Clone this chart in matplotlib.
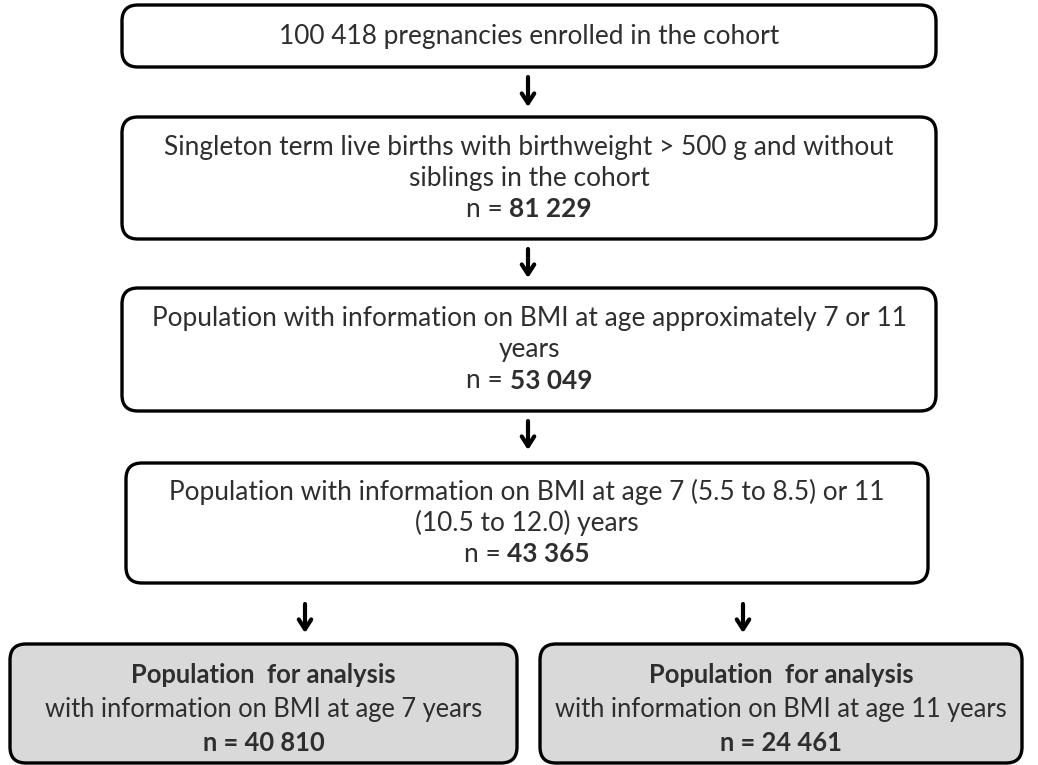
"""Flowchart of cohort selection: pregnancies -> analysis populations at 7 and 11 years."""
import matplotlib
matplotlib.use("Agg")
import matplotlib.pyplot as plt
from matplotlib.patches import FancyBboxPatch

# ---- content -------------------------------------------------------------
step_text = [
    ["100 418 pregnancies enrolled in the cohort"],
    ["Singleton term live births with birthweight > 500 g and without",
     "siblings in the cohort"],
    ["Population with information on BMI at age approximately 7 or 11",
     "years"],
    ["Population with information on BMI at age 7 (5.5 to 8.5) or 11",
     "(10.5 to 12.0) years"],
]
step_n = [None, "81 229", "53 049", "43 365"]

final_title = ["Population  for analysis", "Population  for analysis"]
final_text = ["with information on BMI at age 7 years",
              "with information on BMI at age 11 years"]
final_n = ["40 810", "24 461"]

# ---- layout (pixel coordinates, y down) ----------------------------------
W, H = 1038, 765
step_boxes = [(122, 5, 936, 67), (122, 117, 936, 239),
              (122, 288, 936, 411), (126, 463, 928, 583)]
final_boxes = [(10, 644, 517, 763), (540, 644, 1022, 763)]
arrows = [(528, 77, 107), (528, 249, 278), (528, 421, 450),
          (305, 604, 633), (743, 604, 633)]

FONT = "Lato"
FS_TOP = 18.9
FS_BOT = 18.4
TXT = "#2e2e2e"

fig = plt.figure(figsize=(W / 100, H / 100), dpi=100)
ax = fig.add_axes([0, 0, 1, 1])
ax.set_xlim(0, W)
ax.set_ylim(H, 0)
ax.axis("off")
renderer = fig.canvas.get_renderer()


def box(x0, y0, x1, y1, fc="white"):
    r = 16
    p = FancyBboxPatch((x0 + r, y0 + r), (x1 - x0) - 2 * r, (y1 - y0) - 2 * r,
                       boxstyle=f"round,pad={r},rounding_size={r}",
                       fc=fc, ec="black", lw=2.4, zorder=1)
    ax.add_patch(p)


def mixed(xc, y, parts, fs):
    """Draw text pieces [(str, weight)] side by side, centred on xc."""
    objs = [ax.text(0, y, s, fontsize=fs, family=FONT, weight=w, color=TXT,
                    ha="left", va="center") for s, w in parts]
    inv = ax.transData.inverted()
    widths = []
    for t in objs:
        bb = t.get_window_extent(renderer)
        (a, _), (b, _) = inv.transform([(bb.x0, 0), (bb.x1, 0)])
        widths.append(b - a)
    x = xc - sum(widths) / 2
    for t, w in zip(objs, widths):
        t.set_x(x)
        x += w


LINE = 31
for (x0, y0, x1, y1), lines, n in zip(step_boxes, step_text, step_n):
    box(x0, y0, x1, y1)
    rows = [[(s, "normal")] for s in lines]
    if n:
        rows.append([("n = ", "normal"), (n, "bold")])
    yc = (y0 + y1) / 2
    start = yc - LINE * (len(rows) - 1) / 2
    for i, parts in enumerate(rows):
        mixed((x0 + x1) / 2, start + i * LINE, parts, FS_TOP)

for (x0, y0, x1, y1), ttl, txt, n in zip(final_boxes, final_title, final_text, final_n):
    box(x0, y0, x1, y1, fc="#d9d9d9")
    xc = (x0 + x1) / 2
    mixed(xc, 675, [(ttl, "bold")], FS_BOT)
    mixed(xc, 709, [(txt, "normal")], FS_BOT)
    mixed(xc, 743, [("n = " + n, "bold")], FS_BOT)

for x, ya, yb in arrows:
    ax.annotate("", xy=(x, yb), xytext=(x, ya),
                arrowprops=dict(arrowstyle="->,head_length=0.7,head_width=0.45",
                                lw=3.0, color="black", shrinkA=0, shrinkB=0))

fig.savefig("out.png", dpi=100)
